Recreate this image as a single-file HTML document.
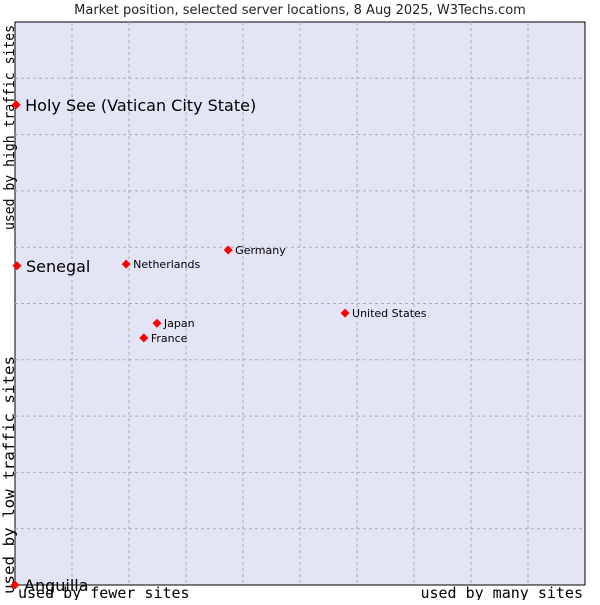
<!DOCTYPE html>
<html><head><meta charset="utf-8"><style>
body{margin:0;background:#fff;width:600px;height:600px;overflow:hidden}
svg text{font-family:"DejaVu Sans","Liberation Sans",sans-serif}
.mono{font-family:"DejaVu Sans Mono","Liberation Mono",monospace}
</style></head><body>
<svg id="chart" width="600" height="600" xmlns="http://www.w3.org/2000/svg">
<text x="300" y="14" text-anchor="middle" font-size="13" fill="#222">Market position, selected server locations, 8 Aug 2025, W3Techs.com</text>
<rect x="15" y="22" width="570" height="563" fill="#e3e5f7" stroke="#000" stroke-width="1"/>
<g id="grid"></g>
<text class="mono" transform="translate(14,230) rotate(-90)" font-size="14" textLength="205" lengthAdjust="spacingAndGlyphs" fill="#000">used by high traffic sites</text>
<text class="mono" transform="translate(14,594) rotate(-90)" font-size="15" textLength="238" lengthAdjust="spacingAndGlyphs" fill="#000">used by low traffic sites</text>
<text class="mono" x="18" y="598" font-size="15" fill="#000">used by fewer sites</text>
<text class="mono" x="583" y="598" text-anchor="end" font-size="15" fill="#000">used by many sites</text>
<g id="points"></g>
</svg>
<script>
const names=["Holy See (Vatican City State)","Senegal","Netherlands","Germany","United States","Japan","France","Anguilla"];
const xValues=[0.2,0.35,19.5,37.4,57.9,24.9,22.6,0];
const yValues=[85.3,56.7,57,59.5,48.3,46.5,43.9,0];
const bigLabel=[true,true,false,false,false,false,false,true];
const L=15,R=585,T=22,B=585;
const xs=v=>L+v/100*(R-L), ys=v=>B-v/100*(B-T);
const ns="http://www.w3.org/2000/svg";
const grid=document.getElementById('grid');
for(let i=1;i<10;i++){
  const v=document.createElementNS(ns,'line');
  
  
  const x=xs(i*10);
  v.setAttribute('x1',x);v.setAttribute('x2',x);v.setAttribute('y1',T);v.setAttribute('y2',B);
  v.setAttribute('stroke','#aaa');v.setAttribute('stroke-dasharray','3,3');
  grid.appendChild(v);
  const h=document.createElementNS(ns,'line');
  
  
  const y=ys(i*10);
  h.setAttribute('x1',L);h.setAttribute('x2',R);h.setAttribute('y1',y);h.setAttribute('y2',y);
  h.setAttribute('stroke','#aaa');h.setAttribute('stroke-dasharray','3,3');
  grid.appendChild(h);
}
const pts=document.getElementById('points');
names.forEach((n,i)=>{
  const x=xs(xValues[i]),y=ys(yValues[i]);
  const d=document.createElementNS(ns,'polygon');
  
  
  d.setAttribute('points',`${x},${y-4.5} ${x+4.5},${y} ${x},${y+4.5} ${x-4.5},${y}`);
  d.setAttribute('fill','#f00');
  pts.appendChild(d);
  const t=document.createElementNS(ns,'text');
  
  
  const big=bigLabel[i];
  t.setAttribute('x',x+(big?9:7));
  t.setAttribute('y',y+(big?6:4));
  t.setAttribute('font-size',big?16:11);
  t.setAttribute('fill','#000');
  t.textContent=n;
  pts.appendChild(t);
});
</script>
</body></html>
